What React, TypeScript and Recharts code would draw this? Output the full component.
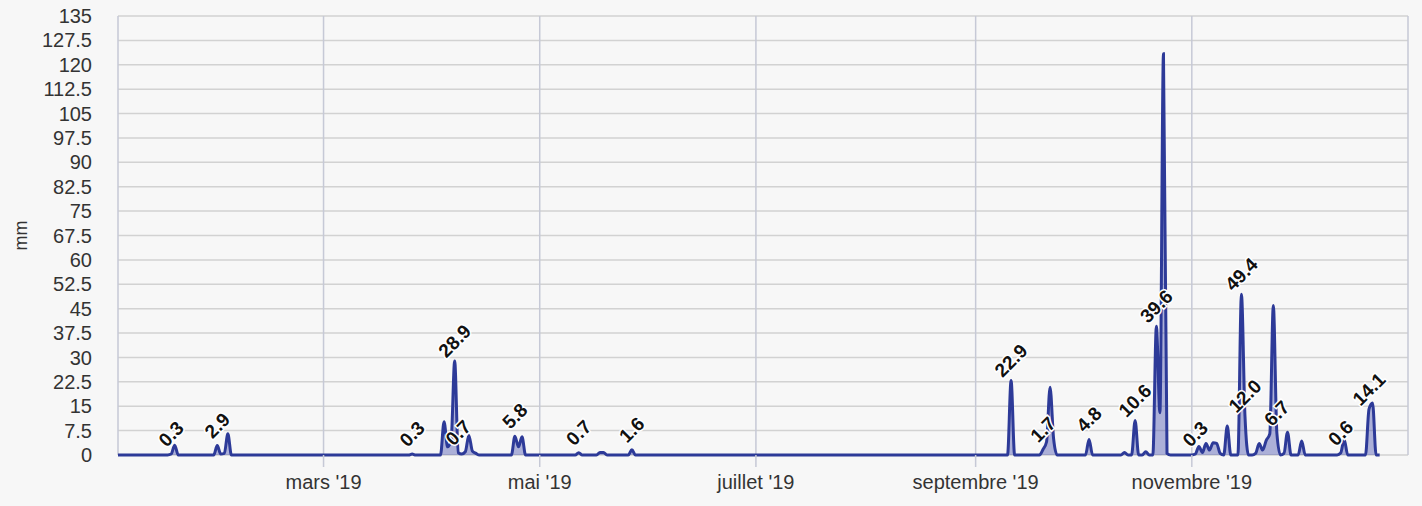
import React from 'react';
import { AreaChart, Area, XAxis, YAxis, CartesianGrid, LabelList } from 'recharts';

// Daily rainfall (mm), 2019 — days not listed had no rain (0 mm)
const rainDates = [
  '01-17', '01-18', '01-30', '01-31', '02-01', '02-02',
  '03-26', '04-04', '04-05', '04-06', '04-07', '04-08', '04-09', '04-10', '04-11', '04-12', '04-13',
  '04-24', '04-25', '04-26', '05-12', '05-18', '05-19', '05-27',
  '09-11', '09-20', '09-21', '09-22', '09-23', '10-03', '10-13', '10-16', '10-19',
  '10-22', '10-23', '10-24', '10-25',
  '11-02', '11-03', '11-04', '11-05', '11-06', '11-07', '11-08', '11-09', '11-11',
  '11-15', '11-16', '11-19', '11-20', '11-21', '11-22', '11-23', '11-24', '11-25', '11-27', '11-28',
  '12-02', '12-13', '12-14', '12-21', '12-22',
];
const rainValues = [
  0.3, 3.0, 2.9, 0.3, 0.5, 6.5,
  0.3, 10.2, 2.5, 4.5, 28.9, 0.7, 0.3, 1.0, 6.0, 1.2, 0.5,
  5.8, 2.5, 5.6, 0.7, 0.8, 0.8, 1.6,
  22.9, 1.7, 4.0, 20.8, 5.0, 4.8, 0.8, 10.6, 1.0,
  39.6, 13.0, 123.4, 0.5,
  0.3, 2.6, 0.8, 3.5, 1.5, 3.8, 3.6, 0.5, 8.9,
  49.4, 12.0, 0.5, 3.5, 1.5, 4.5, 6.5, 46.0, 6.7, 0.5, 7.0,
  4.3, 0.6, 4.8, 14.1, 16.0,
];
// Days whose value is printed as a data label
const labelDates = [
  '01-17', '01-30', '03-26', '04-07', '04-08', '04-24', '05-12', '05-27',
  '09-11', '09-20', '10-03', '10-16', '10-22', '11-02', '11-15', '11-16', '11-25', '12-13', '12-21',
];

const firstDay = '2019-01-02';
const lastDay = '2019-12-24';
const axisEnd = '2020-01-01';

const tickDates = ['2019-03-01', '2019-05-01', '2019-07-01', '2019-09-01', '2019-11-01'];
const tickLabels = ["mars '19", "mai '19", "juillet '19", "septembre '19", "novembre '19"];
const yTicks = [0, 7.5, 15, 22.5, 30, 37.5, 45, 52.5, 60, 67.5, 75, 82.5, 90, 97.5, 105, 112.5, 120, 127.5, 135];

const DAY = 86400000;
const ts = (s: string) => new Date(s + 'T00:00:00Z').getTime();
const pad = (n: number) => (n < 10 ? '0' + n : '' + n);

const rainMap = new Map<string, number>(rainDates.map((d, i) => [d, rainValues[i]]));
const data: { t: number; mm: number; lbl: string | null }[] = [];
for (let t = ts(firstDay); t <= ts(lastDay); t += DAY) {
  const dt = new Date(t);
  const key = pad(dt.getUTCMonth() + 1) + '-' + pad(dt.getUTCDate());
  const v = rainMap.get(key) ?? 0;
  data.push({ t, mm: v, lbl: labelDates.includes(key) ? v.toFixed(1) : null });
}
const xTicks = tickDates.map(ts);
const tickText = new Map<number, string>(xTicks.map((t, i) => [t, tickLabels[i]]));

const FONT = '"Liberation Sans", Arial, Helvetica, sans-serif';

const RotLabel = (p: any) => {
  const { x, y, value } = p;
  if (value == null || value === '') return null;
  const cx = x;
  const cy = y - 20;
  return (
    <text
      x={cx}
      y={cy}
      transform={`rotate(-45 ${cx} ${cy})`}
      textAnchor="middle"
      dominantBaseline="central"
      fontSize={19}
      fontWeight="bold"
      fill="#111"
      stroke="#ffffff"
      strokeWidth={3}
      paintOrder="stroke"
      fontFamily={FONT}
    >
      {value}
    </text>
  );
};

export default function App() {
  return (
    <div style={{ width: 1422, height: 506, background: '#f7f7f7' }}>
      <style>{`body{margin:0;}`}</style>
      <AreaChart
        width={1422}
        height={506}
        data={data}
        margin={{ top: 16, right: 14, bottom: 0, left: 0 }}
      >
        <CartesianGrid stroke="#d2d2d2" strokeWidth={1.5} vertical={false} />
        <CartesianGrid stroke="#c6c9d6" strokeWidth={1.5} horizontal={false} />
        <XAxis
          dataKey="t"
          type="number"
          domain={[ts(firstDay), ts(axisEnd)]}
          ticks={xTicks}
          interval={0}
          tickFormatter={(v: number) => tickText.get(v) ?? ''}
          height={51}
          axisLine={false}
          tickSize={12}
          tickMargin={8}
          tickLine={{ stroke: '#c6c9d6', strokeWidth: 1.5 }}
          tick={{ fill: '#333', fontSize: 20, fontFamily: FONT }}
          allowDataOverflow
        />
        <YAxis
          domain={[0, 135]}
          ticks={yTicks}
          interval={0}
          width={118}
          axisLine={false}
          tickLine={false}
          tickSize={0}
          tickMargin={26}
          tick={{ fill: '#333', fontSize: 20, fontFamily: FONT }}
          label={{ value: 'mm', angle: -90, position: 'insideLeft', offset: 21, style: { fill: '#333', fontSize: 18, fontFamily: FONT, textAnchor: 'middle' } }}
        />
        <Area
          type="monotone"
          dataKey="mm"
          stroke="#2d3a98"
          strokeWidth={3}
          fill="#3b47aa"
          fillOpacity={0.4}
          isAnimationActive={false}
          dot={false}
          activeDot={false}
        >
          <LabelList dataKey="lbl" content={RotLabel} />
        </Area>
      </AreaChart>
    </div>
  );
}
